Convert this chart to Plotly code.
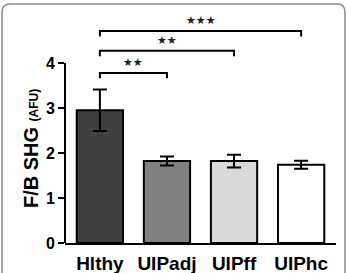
import plotly.graph_objects as go

categories = ["Hlthy", "UIPadj", "UIPff", "UIPhc"]
values = [2.95, 1.82, 1.82, 1.74]
errors = [0.46, 0.10, 0.14, 0.09]
bar_colors = ["#404040", "#808080", "#d9d9d9", "#ffffff"]
y_ticks = [0, 1, 2, 3, 4]
comparisons = [(0, 1, 2), (0, 2, 2), (0, 3, 3)]  # (from, to, number of stars)
bracket_levels = [3.78, 4.27, 4.71]
bracket_drop = 0.12

W, H = 347, 273
ML, MR, MT, MB = 65, 11, 18, 30
FONT = "Liberation Sans, Arial, Helvetica, sans-serif"

xs = list(range(len(categories)))

fig = go.Figure()
fig.add_trace(go.Bar(
    x=xs, y=values, width=0.69,
    marker=dict(color=bar_colors, line=dict(color="black", width=2)),
    error_y=dict(type="data", array=errors, color="black", thickness=2, width=7),
    showlegend=False,
))

shapes = []
annotations = []
shapes.append(dict(type="line", xref="paper", yref="y", x0=0, x1=0, y0=0, y1=max(y_ticks),
                   line=dict(color="black", width=2)))
for (a, b, n), lvl in zip(comparisons, bracket_levels):
    shapes.append(dict(type="path", xref="x", yref="y",
                       path=f"M {a},{lvl-bracket_drop} V {lvl} H {b} V {lvl-bracket_drop}",
                       line=dict(color="black", width=2)))
    annotations.append(dict(x=(a + b) / 2, y=lvl, xref="x", yref="y", text="★" * n,
                            showarrow=False, yanchor="bottom", yshift=2,
                            font=dict(family="DejaVu Sans", size=11, color="#222222")))

# rounded frame (decoration)
pw, ph = W - ML - MR, H - MT - MB
def px(x):
    return (x - ML) / pw
def py(y):
    return (H - MB - y) / ph
r = 8
x0, x1, yt, yb = 2, 345, 4, 290
frame = (f"M {px(x0)},{py(yb)} L {px(x0)},{py(yt + r)} Q {px(x0)},{py(yt)} {px(x0 + r)},{py(yt)} "
         f"L {px(x1 - r)},{py(yt)} Q {px(x1)},{py(yt)} {px(x1)},{py(yt + r)} L {px(x1)},{py(yb)}")
shapes.append(dict(type="path", xref="paper", yref="paper", path=frame,
                   line=dict(color="#8a8a8a", width=1.5)))

annotations.append(dict(
    x=-0.125, y=2.09, xref="paper", yref="y", textangle=-90, showarrow=False,
    xanchor="center", yanchor="middle",
    text="<b>F/B SHG</b> <span style='font-size:12px'><b>(AFU)</b></span>",
    font=dict(family=FONT, size=20, color="black"),
))

fig.update_layout(
    width=W, height=H,
    margin=dict(l=ML, r=MR, t=MT, b=MB, autoexpand=False),
    paper_bgcolor="white", plot_bgcolor="white",
    shapes=shapes, annotations=annotations,
    xaxis=dict(range=[-0.52, 3.52], tickvals=xs, ticktext=[f"<b>{c}</b>" for c in categories],
               showline=True, linecolor="black", linewidth=2, ticks="", showgrid=False,
               zeroline=False, ticklabelstandoff=2, automargin=False,
               tickfont=dict(family=FONT, size=19, color="black")),
    yaxis=dict(range=[0, 5.0], tickvals=y_ticks, ticktext=[f"<b>{t}</b>" for t in y_ticks],
               showline=False, ticks="outside", ticklen=6, tickwidth=2, tickcolor="black",
               showgrid=False, zeroline=False, automargin=False,
               tickfont=dict(family=FONT, size=16, color="black")),
)

fig.write_html("out.html")
